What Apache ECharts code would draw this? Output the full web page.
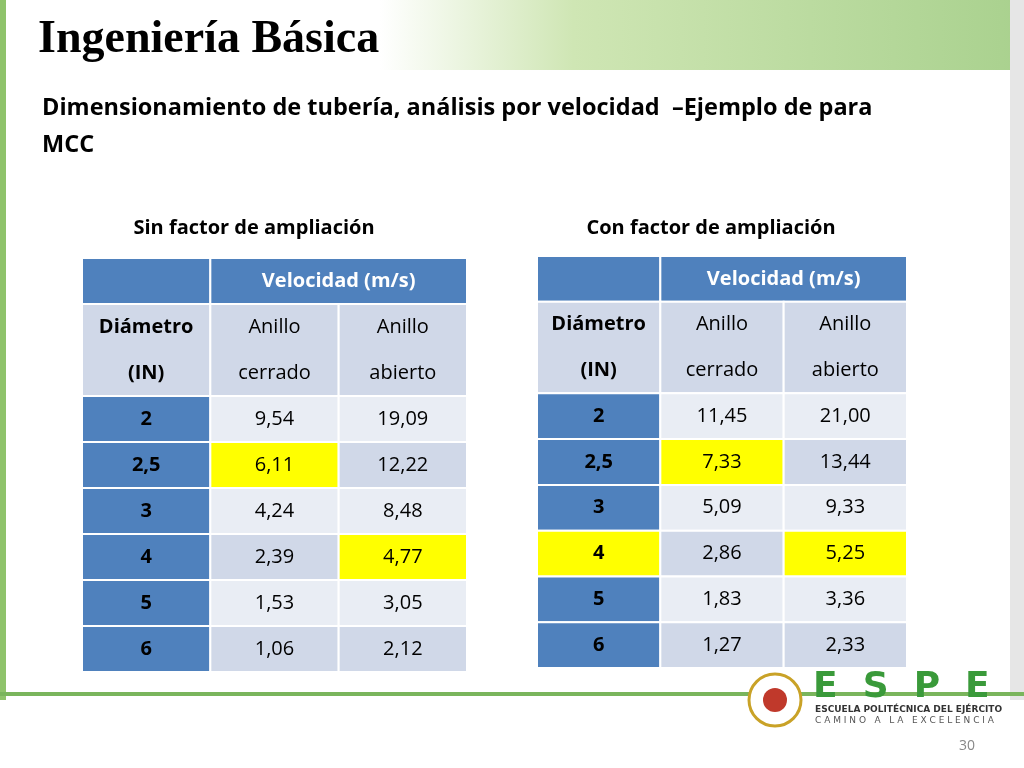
<!DOCTYPE html>
<html><head><meta charset="utf-8">
<script src="https://cdn.jsdelivr.net/npm/echarts@6/dist/echarts.min.js"></script>
<style>html,body{margin:0;padding:0;background:#fff}#c{width:1024px;height:768px}</style>
</head><body><div id="c"></div>
<script>
const diameters = ['2','2,5','3','4','5','6'];
const leftClosed = ['9,54','6,11','4,24','2,39','1,53','1,06'];
const leftOpen   = ['19,09','12,22','8,48','4,77','3,05','2,12'];
const rightClosed = ['11,45','7,33','5,09','2,86','1,83','1,27'];
const rightOpen   = ['21,00','13,44','9,33','5,25','3,36','2,33'];
// highlighted cells: [dataRowIndex, column]
const leftHighlights = [[1,1],[3,2]];
const rightHighlights = [[1,1],[3,0],[3,2]];
const headerText = 'Velocidad (m/s)';
const subHeaders = ['Diámetro\n(IN)','Anillo\ncerrado','Anillo\nabierto'];

const BLUE='#4f81bd', DARK='#d0d8e8', LIGHT='#e9edf4', YEL='#ffff00';
function buildCells(closed, open, hl){
  const cells=[];
  cells.push([0,0,1,1,'',BLUE,0]);
  cells.push([1,0,2,1,headerText,BLUE,1]);
  subHeaders.forEach((t,i)=>cells.push([i,1,1,2,t,DARK,i===0?1:0]));
  diameters.forEach((d,r)=>{
    const isHl=c=>hl.some(h=>h[0]===r&&h[1]===c);
    const band = r%2===0?LIGHT:DARK;
    cells.push([0,r+3,1,1,d,isHl(0)?YEL:BLUE,1]);
    cells.push([1,r+3,1,1,closed[r],isHl(1)?YEL:band,0]);
    cells.push([2,r+3,1,1,open[r],isHl(2)?YEL:band,0]);
  });
  return cells;
}
function renderItem(params, api){
  const c=api.value(0), r=api.value(1), cs=api.value(2), rs=api.value(3);
  const cell = params.seriesIndex===0?leftCells[params.dataIndex]:rightCells[params.dataIndex];
  const p0=api.coord([c,r]), p1=api.coord([c+cs,r+rs]);
  const x=Math.min(p0[0],p1[0]), y=Math.min(p0[1],p1[1]);
  const w=Math.abs(p1[0]-p0[0]), h=Math.abs(p1[1]-p0[1]);
  const lines=String(cell[4]).split('\n'); const lh=h/lines.length;
  const children=[{type:'rect',shape:{x,y,width:w,height:h},style:{fill:cell[5],stroke:'#fff',lineWidth:2}}];
  lines.forEach((t,i)=>children.push({type:'text',style:{text:t,x:x+w/2,y:y+lh*i+lh/2,align:'center',verticalAlign:'middle',
    font:(cell[6]?'bold ':'')+'20px "Open Sans", "Liberation Sans", sans-serif',fill:(cell[5]===BLUE&&r===0)?'#fff':'#000'}}));
  return {type:'group',children};
}
const leftCells=buildCells(leftClosed,leftOpen,leftHighlights);
const rightCells=buildCells(rightClosed,rightOpen,rightHighlights);
const chart=echarts.init(document.getElementById('c'));
const ax=(i)=>({type:'value',min:0,max:3,show:false,gridIndex:i});
const ay=(i)=>({type:'value',min:0,max:9,inverse:true,show:false,gridIndex:i});
const F='"Open Sans", "Liberation Sans", sans-serif';
chart.setOption({
  animation:false,
  grid:[{left:82,top:258,width:385,height:414},{left:537,top:256,width:370,height:412}],
  xAxis:[ax(0),ax(1)], yAxis:[ay(0),ay(1)],
  series:[
    {type:'custom',xAxisIndex:0,yAxisIndex:0,renderItem,data:leftCells.map(c=>c.slice(0,4))},
    {type:'custom',xAxisIndex:1,yAxisIndex:1,renderItem,data:rightCells.map(c=>c.slice(0,4))}
  ],
  graphic:[
    {type:'rect',shape:{x:380,y:0,width:644,height:70},style:{fill:new echarts.graphic.LinearGradient(0,0,1,0,[{offset:0,color:'#ffffff'},{offset:0.3,color:'#cfe6b4'},{offset:1,color:'#a9d18e'}])},z:-1},
    {type:'rect',shape:{x:0,y:0,width:6,height:700},style:{fill:'#8fc36b'}},
    {type:'rect',shape:{x:1010,y:0,width:14,height:700},style:{fill:'#e6e6e6'}},
    {type:'rect',shape:{x:0,y:692,width:1024,height:4},style:{fill:'#7ab55c'}},
    {type:'text',style:{text:'Ingeniería Básica',x:38,y:40,verticalAlign:'middle',font:'bold 46px "Liberation Serif", serif',fill:'#000'}},
    {type:'text',style:{text:'Dimensionamiento de tubería, análisis por velocidad  –Ejemplo de para',x:42,y:108,verticalAlign:'middle',font:'bold 23.5px '+F,fill:'#000'}},
    {type:'text',style:{text:'MCC',x:42,y:145,verticalAlign:'middle',font:'bold 23.5px '+F,fill:'#000'}},
    {type:'text',style:{text:'Sin factor de ampliación',x:254,y:228,align:'center',verticalAlign:'middle',font:'bold 20px '+F,fill:'#000'}},
    {type:'text',style:{text:'Con factor de ampliación',x:711,y:228,align:'center',verticalAlign:'middle',font:'bold 20px '+F,fill:'#000'}},
    {type:'circle',shape:{cx:775,cy:700,r:26},style:{fill:'#fff',stroke:'#c9a227',lineWidth:3}},
    {type:'circle',shape:{cx:775,cy:700,r:12},style:{fill:'#c0392b'}},
    {type:'text',style:{text:'E  S  P  E',x:813,y:688,verticalAlign:'middle',font:'bold 36px "DejaVu Sans", sans-serif',fill:'#3a9a3a'}},
    {type:'text',style:{text:'ESCUELA POLITÉCNICA DEL EJÉRCITO',x:815,y:710,verticalAlign:'middle',font:'bold 9px "DejaVu Sans", sans-serif',fill:'#333'}},
    {type:'text',style:{text:'C A M I N O   A   L A   E X C E L E N C I A',x:815,y:721,verticalAlign:'middle',font:'9px "DejaVu Sans", sans-serif',fill:'#555'}},
    {type:'text',style:{text:'30',x:975,y:746,align:'right',verticalAlign:'middle',font:'14px '+F,fill:'#888'}}
  ]
});
</script></body></html>
